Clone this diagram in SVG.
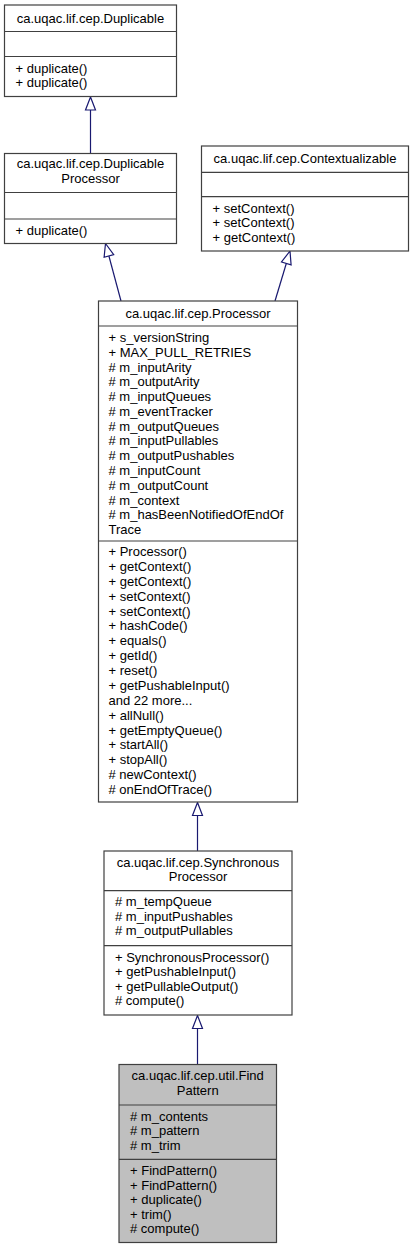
<svg xmlns="http://www.w3.org/2000/svg" width="415" height="1249" viewBox="0 0 415 1249">
<style>
  .box { fill: #ffffff; stroke: #404040; stroke-width: 1.2; }
  .cur { fill: #bfbfbf; stroke: #404040; stroke-width: 1.2; }
  .sep { stroke: #404040; stroke-width: 1.2; }
  text { font-family: "Liberation Sans", Arial, Helvetica, sans-serif; font-size: 13px; fill: #000000; }
  .t { text-anchor: middle; }
  .edge { stroke: #191970; stroke-width: 1.2; fill: none; }
  .head { stroke: #191970; stroke-width: 1.2; fill: #ffffff; }
</style>
<rect x="0" y="0" width="415" height="1249" fill="#ffffff"/>

<g id="connectors">
  <line class="edge" x1="90.5" y1="153.5" x2="90.5" y2="110"/>
  <polygon class="head" points="90.5,97 85.5,110 95.5,110"/>
  <line class="edge" x1="121" y1="301" x2="108.9" y2="256"/>
  <polygon class="head" points="105.5,243.5 113.7,254.7 104.1,257.3"/>
  <line class="edge" x1="275" y1="301" x2="286.3" y2="263.5"/>
  <polygon class="head" points="290,251 291.1,264.9 281.5,262"/>
  <line class="edge" x1="197.5" y1="851" x2="197.5" y2="815.5"/>
  <polygon class="head" points="197.5,802.5 192.5,815.5 202.5,815.5"/>
  <line class="edge" x1="197.5" y1="1064.5" x2="197.5" y2="1028.5"/>
  <polygon class="head" points="197.5,1015.5 192.5,1028.5 202.5,1028.5"/>
</g>

<g id="Duplicable">
  <rect class="box" x="4.5" y="5" width="172" height="91.5"/>
  <line class="sep" x1="4.5" y1="31.5" x2="176.5" y2="31.5"/>
  <line class="sep" x1="4.5" y1="56.5" x2="176.5" y2="56.5"/>
  <text class="t" x="90.5" y="22.5">ca.uqac.lif.cep.Duplicable</text>
  <text x="15.5" y="72.5">+ duplicate()</text>
  <text x="15.5" y="87">+ duplicate()</text>
</g>

<g id="DuplicableProcessor">
  <rect class="box" x="4.5" y="153.5" width="172" height="90"/>
  <line class="sep" x1="4.5" y1="192.5" x2="176.5" y2="192.5"/>
  <line class="sep" x1="4.5" y1="219" x2="176.5" y2="219"/>
  <text class="t" x="90.5" y="168">ca.uqac.lif.cep.Duplicable</text>
  <text class="t" x="90.5" y="182.5">Processor</text>
  <text x="15.5" y="234.5">+ duplicate()</text>
</g>

<g id="Contextualizable">
  <rect class="box" x="201.5" y="146" width="207" height="105"/>
  <line class="sep" x1="201.5" y1="172.3" x2="408.5" y2="172.3"/>
  <line class="sep" x1="201.5" y1="196.7" x2="408.5" y2="196.7"/>
  <text class="t" x="305" y="163">ca.uqac.lif.cep.Contextualizable</text>
  <text x="212.5" y="212.5">+ setContext()</text>
  <text x="212.5" y="227">+ setContext()</text>
  <text x="212.5" y="241.5">+ getContext()</text>
</g>

<g id="Processor">
  <rect class="box" x="98.5" y="301" width="199" height="501"/>
  <line class="sep" x1="98.5" y1="326" x2="297.5" y2="326"/>
  <line class="sep" x1="98.5" y1="541" x2="297.5" y2="541"/>
  <text class="t" x="198" y="318">ca.uqac.lif.cep.Processor</text>
  <text x="108.5" y="342">+ s_versionString</text>
  <text x="108.5" y="356.8">+ MAX_PULL_RETRIES</text>
  <text x="108.5" y="371.5"># m_inputArity</text>
  <text x="108.5" y="386.3"># m_outputArity</text>
  <text x="108.5" y="401.1"># m_inputQueues</text>
  <text x="108.5" y="415.8"># m_eventTracker</text>
  <text x="108.5" y="430.6"># m_outputQueues</text>
  <text x="108.5" y="445.4"># m_inputPullables</text>
  <text x="108.5" y="460.2"># m_outputPushables</text>
  <text x="108.5" y="474.9"># m_inputCount</text>
  <text x="108.5" y="489.7"># m_outputCount</text>
  <text x="108.5" y="504.5"># m_context</text>
  <text x="108.5" y="519.2"># m_hasBeenNotifiedOfEndOf</text>
  <text x="108.5" y="534">Trace</text>
  <text x="108.5" y="556">+ Processor()</text>
  <text x="108.5" y="570.9">+ getContext()</text>
  <text x="108.5" y="585.8">+ getContext()</text>
  <text x="108.5" y="600.6">+ setContext()</text>
  <text x="108.5" y="615.5">+ setContext()</text>
  <text x="108.5" y="630.4">+ hashCode()</text>
  <text x="108.5" y="645.3">+ equals()</text>
  <text x="108.5" y="660.1">+ getId()</text>
  <text x="108.5" y="675">+ reset()</text>
  <text x="108.5" y="689.9">+ getPushableInput()</text>
  <text x="108.5" y="704.8">and 22 more...</text>
  <text x="108.5" y="719.6">+ allNull()</text>
  <text x="108.5" y="734.5">+ getEmptyQueue()</text>
  <text x="108.5" y="749.4">+ startAll()</text>
  <text x="108.5" y="764.3">+ stopAll()</text>
  <text x="108.5" y="779.1"># newContext()</text>
  <text x="108.5" y="794"># onEndOfTrace()</text>
</g>

<g id="SynchronousProcessor">
  <rect class="box" x="104" y="851" width="188" height="164"/>
  <line class="sep" x1="104" y1="890.7" x2="292" y2="890.7"/>
  <line class="sep" x1="104" y1="945.7" x2="292" y2="945.7"/>
  <text class="t" x="198" y="866.5">ca.uqac.lif.cep.Synchronous</text>
  <text class="t" x="198" y="881">Processor</text>
  <text x="115" y="906"># m_tempQueue</text>
  <text x="115" y="920.5"># m_inputPushables</text>
  <text x="115" y="935"># m_outputPullables</text>
  <text x="115" y="961.5">+ SynchronousProcessor()</text>
  <text x="115" y="976">+ getPushableInput()</text>
  <text x="115" y="990.5">+ getPullableOutput()</text>
  <text x="115" y="1005"># compute()</text>
</g>

<g id="FindPattern">
  <rect class="cur" x="119" y="1064.5" width="157.5" height="178"/>
  <line class="sep" x1="119" y1="1105" x2="276.5" y2="1105"/>
  <line class="sep" x1="119" y1="1159.3" x2="276.5" y2="1159.3"/>
  <text class="t" x="197.7" y="1080">ca.uqac.lif.cep.util.Find</text>
  <text class="t" x="197.7" y="1094.5">Pattern</text>
  <text x="130" y="1120.5"># m_contents</text>
  <text x="130" y="1135"># m_pattern</text>
  <text x="130" y="1149.5"># m_trim</text>
  <text x="130" y="1175">+ FindPattern()</text>
  <text x="130" y="1189.5">+ FindPattern()</text>
  <text x="130" y="1204">+ duplicate()</text>
  <text x="130" y="1218.5">+ trim()</text>
  <text x="130" y="1233"># compute()</text>
</g>
</svg>
